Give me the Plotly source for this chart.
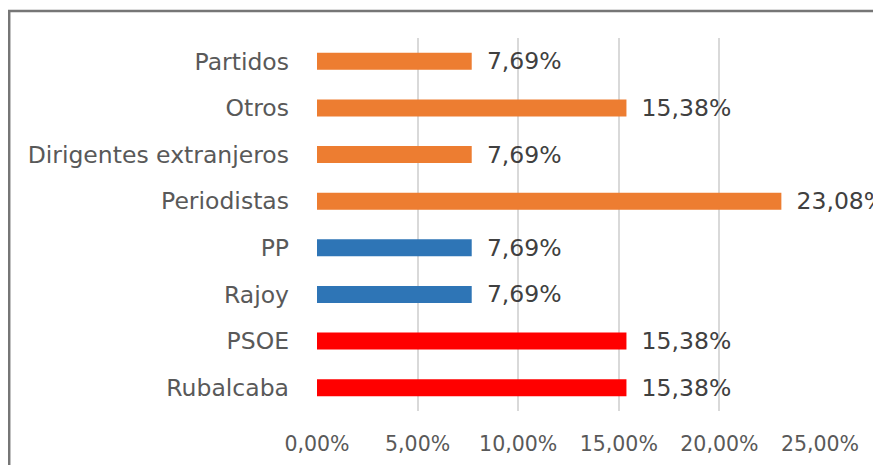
import plotly.graph_objects as go

categories = ["Rubalcaba", "PSOE", "Rajoy", "PP", "Periodistas",
              "Dirigentes extranjeros", "Otros", "Partidos"]
values = [0.1538, 0.1538, 0.0769, 0.0769, 0.2308, 0.0769, 0.1538, 0.0769]
colors = ["#FF0000", "#FF0000", "#2E75B6", "#2E75B6", "#ED7D31",
          "#ED7D31", "#ED7D31", "#ED7D31"]
x_ticks = [0, 0.05, 0.10, 0.15, 0.20, 0.25]

FONT = "DejaVu Sans, sans-serif"

fig = go.Figure(go.Bar(
    y=categories, x=values, orientation="h",
    marker=dict(color=colors, line=dict(width=0)),
    width=0.365,
    texttemplate="\u00a0\u2009%{x:.2%}", textposition="outside",
    cliponaxis=False, constraintext="none",
    textfont=dict(family=FONT, size=23.5, color="#404040"),
))

# page offset of the figure (body margin) is compensated in the margins
OFF = 8
W, H = 881, 465
L, R, T, B = 317 - OFF, 820 - OFF, 38 - OFF, 411 - OFF
fig.update_layout(
    width=W, height=H,
    margin=dict(l=L, r=W - R, t=T, b=H - B, autoexpand=False),
    paper_bgcolor="white", plot_bgcolor="white",
    separators=",.",
    showlegend=False,
    font=dict(family=FONT, color="#595959"),
    xaxis=dict(range=[0, 0.25], tickvals=x_ticks, tickformat=".2%",
               showgrid=True, gridcolor="#D9D9D9", gridwidth=1.5,
               zeroline=False, showline=False, ticks="",
               tickfont=dict(family=FONT, size=20.5, color="#595959"),
               ticklabelstandoff=18, automargin=False, fixedrange=True),
    yaxis=dict(categoryorder="array", categoryarray=categories,
               showgrid=False, zeroline=False, showline=False, ticks="",
               tickfont=dict(family=FONT, size=23.5, color="#595959"),
               ticklabelstandoff=27, automargin=False),
    shapes=[dict(type="rect", xref="paper", yref="paper",
                 x0=(1.2 - L) / (R - L), x1=2.0,
                 y0=-1.0, y1=(B - (11 - OFF)) / (B - T),
                 line=dict(color="#767676", width=2.5), layer="below")],
)

fig.write_html("out.html")
